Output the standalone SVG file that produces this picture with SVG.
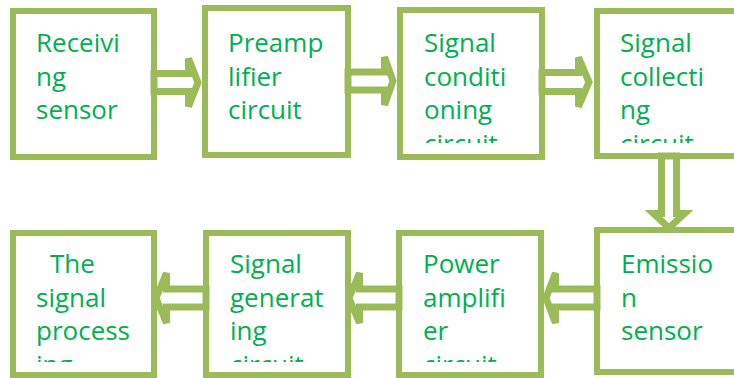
<svg xmlns="http://www.w3.org/2000/svg" width="734" height="378" viewBox="0 0 734 378">
<style>
.box{fill:none;stroke:#9BBB59;stroke-width:6}
.arr{fill:#fff;stroke:#9BBB59;stroke-width:7;stroke-linejoin:miter}
.t{font-family:"Open Sans","Liberation Sans",sans-serif;font-size:26px;fill:#00B050}
</style>
<defs>
<clipPath id="ct"><rect x="0" y="0" width="734" height="143"/></clipPath>
<clipPath id="cb"><rect x="0" y="200" width="734" height="162"/></clipPath>
</defs>
<rect width="734" height="378" fill="#fff"/>
<g id="connectors">
<polygon class="arr" points="154,73.5 188.5,73.5 188.5,58.5 198,82.5 188.5,106.5 188.5,91.5 154,91.5"/>
<polygon class="arr" points="348,72 384.5,72 384.5,57 393,81 384.5,105 384.5,90 348,90"/>
<polygon class="arr" points="542,72.5 578.5,72.5 578.5,57.5 589,82 578.5,106.5 578.5,91.5 542,91.5"/>
<polygon class="arr" points="661.5,156 661.5,213.5 653.5,213.5 669,228 684.5,213.5 676.5,213.5 676.5,156"/>
<polygon class="arr" points="597,289 555.5,289 555.5,273 546,298 555.5,323 555.5,307 597,307"/>
<polygon class="arr" points="399,289 359.5,289 359.5,273 349,298 359.5,323 359.5,307 399,307"/>
<polygon class="arr" points="206,289 166.5,289 166.5,273 156,298 166.5,323 166.5,307 206,307"/>
</g>
<g id="n1">
<rect class="box" x="13" y="11" width="141" height="146"/>
<text class="t" x="36" y="52">Receivi</text>
<text class="t" x="36" y="85.5">ng</text>
<text class="t" x="36" y="119">sensor</text>
</g>
<g id="n2">
<rect class="box" x="205" y="8" width="143" height="147"/>
<text class="t" x="228" y="52">Preamp</text>
<text class="t" x="228" y="85.5">lifier</text>
<text class="t" x="228" y="119">circuit</text>
</g>
<g id="n3">
<rect class="box" x="400" y="10" width="142" height="147"/>
<g clip-path="url(#ct)">
<text class="t" x="424" y="52">Signal</text>
<text class="t" x="424" y="85.5">conditi</text>
<text class="t" x="424" y="119">oning</text>
<text class="t" x="424" y="152.5">circuit</text>
</g>
</g>
<g id="n4">
<rect class="box" x="597" y="11" width="150" height="145"/>
<g clip-path="url(#ct)">
<text class="t" x="620" y="52">Signal</text>
<text class="t" x="620" y="85.5">collecti</text>
<text class="t" x="620" y="119">ng</text>
<text class="t" x="620" y="152.5">circuit</text>
</g>
</g>
<g id="n5">
<rect class="box" x="13" y="233" width="141" height="142"/>
<g clip-path="url(#cb)">
<text class="t" x="50" y="273">The</text>
<text class="t" x="36" y="306.5">signal</text>
<text class="t" x="36" y="340">process</text>
<text class="t" x="36" y="373.5">ing</text>
</g>
</g>
<g id="n6">
<rect class="box" x="206" y="233" width="142" height="142"/>
<g clip-path="url(#cb)">
<text class="t" x="230" y="273">Signal</text>
<text class="t" x="230" y="306.5">generat</text>
<text class="t" x="230" y="340">ing</text>
<text class="t" x="230" y="373.5">circuit</text>
</g>
</g>
<g id="n7">
<rect class="box" x="399" y="233" width="142" height="142"/>
<g clip-path="url(#cb)">
<text class="t" x="423" y="273">Power</text>
<text class="t" x="423" y="306.5">amplifi</text>
<text class="t" x="423" y="340">er</text>
<text class="t" x="423" y="373.5">circuit</text>
</g>
</g>
<g id="n8">
<rect class="box" x="597" y="230" width="150" height="142"/>
<text class="t" x="621" y="273">Emissio</text>
<text class="t" x="621" y="306.5">n</text>
<text class="t" x="621" y="340">sensor</text>
</g>
</svg>
